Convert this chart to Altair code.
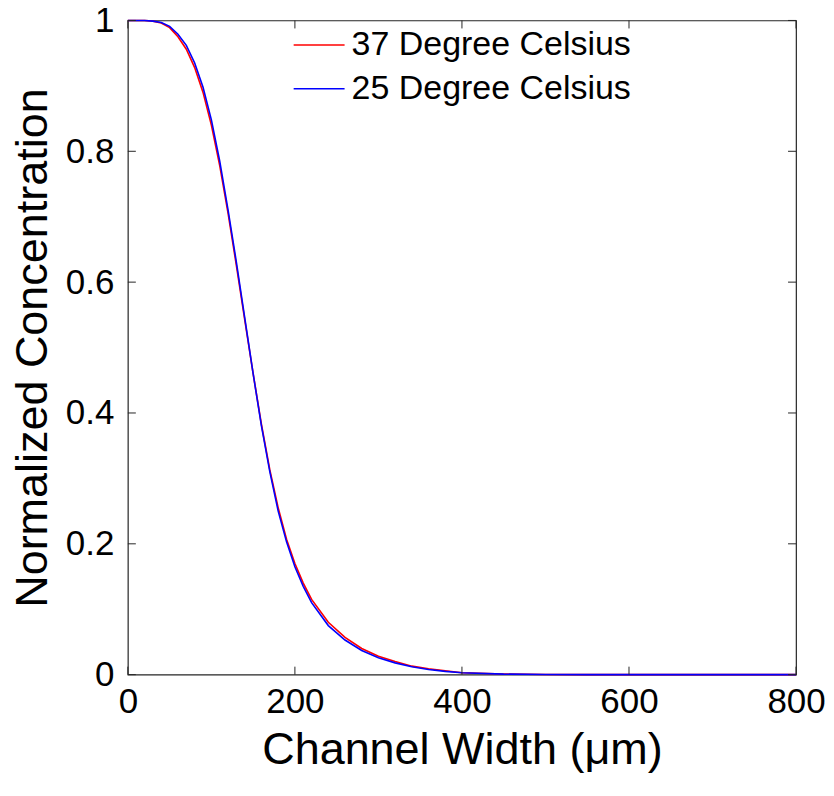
import altair as alt
import pandas as pd

# ---- data ----
x_um = [0, 10, 20, 30, 40, 50, 60, 70, 80, 90, 100, 110, 120, 130, 140, 150,
        160, 170, 180, 190, 200, 210, 220, 240, 260, 280, 300, 320, 340, 360,
        380, 400, 450, 500, 550, 600, 700, 800]
conc_37 = [1.0, 1.0, 1.0, 0.999, 0.996, 0.989, 0.975, 0.956, 0.928, 0.89, 0.84,
           0.778, 0.705, 0.625, 0.542, 0.46, 0.382, 0.313, 0.255, 0.207, 0.17,
           0.14, 0.115, 0.08, 0.057, 0.04, 0.028, 0.02, 0.013, 0.009, 0.006,
           0.003, 0.001, 0.0003, 0.0, 0.0, 0.0, 0.0]
conc_25 = [1.0, 1.0, 1.0, 0.999, 0.997, 0.991, 0.979, 0.962, 0.935, 0.898, 0.848,
           0.785, 0.71, 0.63, 0.545, 0.46, 0.38, 0.31, 0.25, 0.203, 0.165,
           0.135, 0.11, 0.075, 0.053, 0.037, 0.026, 0.018, 0.012, 0.008, 0.005,
           0.003, 0.0008, 0.0002, 0.0, 0.0, 0.0, 0.0]
series_names = ["37 Degree Celsius", "25 Degree Celsius"]
series_colors = ["#ff0000", "#0000ff"]
x_ticks = [0, 200, 400, 600, 800]
y_ticks = [0, 0.2, 0.4, 0.6, 0.8, 1]

W, H = 669, 655
TICK = 8
FONT = "Liberation Sans"
AXIS_COLOR = "#262626"

df37 = pd.DataFrame({"x": x_um, "y": conc_37, "series": series_names[0]})
df25 = pd.DataFrame({"x": x_um, "y": conc_25, "series": series_names[1]})
dfx = pd.DataFrame({"v": x_ticks})
dfy = pd.DataFrame({"v": y_ticks})

xscale = alt.Scale(domain=[0, 800], nice=False, zero=False)
yscale = alt.Scale(domain=[0, 1], nice=False, zero=False)
cscale = alt.Scale(domain=series_names, range=series_colors)

xaxis = alt.Axis(values=x_ticks, title="Channel Width (μm)", grid=False,
                 ticks=False, domain=False, labelFontSize=35, titleFontSize=45,
                 labelPadding=10, titlePadding=8, labelColor="black",
                 titleColor="black", labelFont=FONT, titleFont=FONT,
                 titleFontWeight="normal", format="d", labelFlush=False)
yaxis = alt.Axis(values=y_ticks, title="Normalized Concentration", grid=False,
                 ticks=False, domain=False, labelFontSize=35, titleFontSize=45,
                 labelPadding=14, titlePadding=10, labelColor="black",
                 titleColor="black", labelFont=FONT, titleFont=FONT,
                 titleFontWeight="normal", labelExpr="datum.value == 0 ? '0' : datum.value == 1 ? '1' : format(datum.value, '.1f')",
                 labelFlush=False)

legend = alt.Legend(title=None, orient="none", legendX=165, legendY=-2,
                    symbolType="stroke", symbolSize=2600, symbolStrokeWidth=1.5,
                    labelFontSize=34, labelFont=FONT, labelColor="black",
                    labelLimit=500, rowPadding=0, padding=0, labelOffset=6)

line37 = alt.Chart(df37).mark_line(strokeWidth=1.6).encode(
    x=alt.X("x:Q", scale=xscale, axis=xaxis),
    y=alt.Y("y:Q", scale=yscale, axis=yaxis),
    color=alt.Color("series:N", scale=cscale, legend=legend),
)
line25 = alt.Chart(df25).mark_line(strokeWidth=1.6).encode(
    x=alt.X("x:Q", scale=xscale),
    y=alt.Y("y:Q", scale=yscale),
    color=alt.Color("series:N", scale=cscale),
)

tick_style = dict(color=AXIS_COLOR, strokeWidth=1)
bottom_ticks = alt.Chart(dfx).mark_rule(**tick_style).encode(
    x=alt.X("v:Q", scale=xscale), y=alt.value(H), y2=alt.value(H - TICK))
top_ticks = alt.Chart(dfx).mark_rule(**tick_style).encode(
    x=alt.X("v:Q", scale=xscale), y=alt.value(0), y2=alt.value(TICK))
left_ticks = alt.Chart(dfy).mark_rule(**tick_style).encode(
    y=alt.Y("v:Q", scale=yscale), x=alt.value(0), x2=alt.value(TICK))
right_ticks = alt.Chart(dfy).mark_rule(**tick_style).encode(
    y=alt.Y("v:Q", scale=yscale), x=alt.value(W), x2=alt.value(W - TICK))

chart = alt.layer(line37, line25, bottom_ticks, top_ticks, left_ticks, right_ticks).properties(
    width=W, height=H,
    autosize=alt.AutoSizeParams(type="none"),
    padding={"left": 120, "top": 12, "right": 30, "bottom": 100},
    background="white",
).configure_view(stroke=AXIS_COLOR, strokeWidth=1.2)

chart.save("out.html", embed_options={"renderer": "svg", "actions": False})
